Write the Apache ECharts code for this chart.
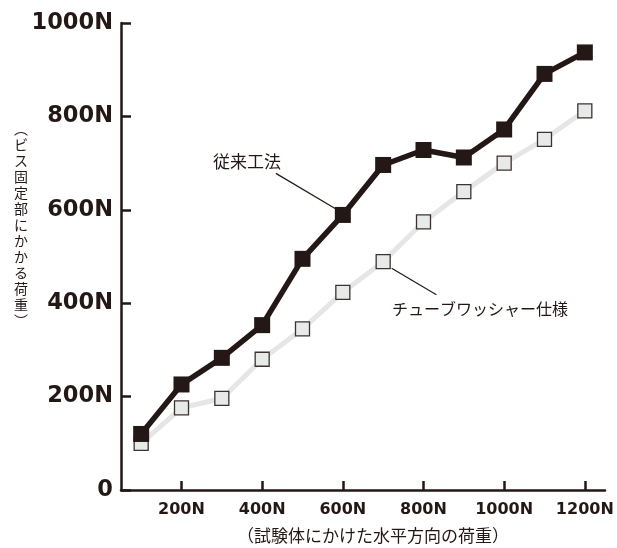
<!DOCTYPE html>
<html>
<head>
<meta charset="utf-8">
<script src="https://cdn.jsdelivr.net/npm/echarts@6/dist/echarts.min.js"></script>
<style>
html,body{margin:0;padding:0;background:#fff;}
#chart{width:617px;height:548px;}
</style>
</head>
<body>
<div id="chart"></div>
<script>
// Horizontal load applied to specimen (N)
var xValues = [100, 200, 300, 400, 500, 600, 700, 800, 900, 1000, 1100, 1200];
// 従来工法 (conventional method)
var conventional = [120, 226, 283, 353, 495, 589, 696, 728, 712, 772, 891, 937];
// チューブワッシャー仕様 (tube washer spec)
var tubeWasher = [100, 176, 196, 280, 345, 423, 489, 574, 639, 700, 751, 812];
var xTickValues = [200, 400, 600, 800, 1000, 1200];
var yTickValues = [0, 200, 400, 600, 800, 1000];
var seriesNames = ['従来工法', 'チューブワッシャー仕様'];
var xTitle = '（試験体にかけた水平方向の荷重）';
var yTitle = '︵ビス固定部にかかる荷重︶';
// leader lines (data coordinates)
var leaderConventional = [[434, 678], [584, 601]];
var leaderTube = [[721, 475], [832, 418]];

var ink = '#231815';
function pairs(xs, ys) { return xs.map(function (x, i) { return [x, ys[i]]; }); }

var chart = echarts.init(document.getElementById('chart'), null, { renderer: 'canvas' });
chart.setOption({
  animation: false,
  backgroundColor: '#ffffff',
  grid: { left: 121, right: 12, top: 23, bottom: 58, containLabel: false },
  xAxis: {
    type: 'value', min: 50, max: 1250,
    axisLine: { show: true, lineStyle: { color: ink, width: 2.5 } },
    axisTick: { show: true, inside: true, length: 9, lineStyle: { color: ink, width: 2.5 }, customValues: xTickValues },
    axisLabel: {
      customValues: xTickValues, margin: 12,
      formatter: function (v) { return v + 'N'; },
      fontFamily: 'DejaVu Sans', fontWeight: 'bold', fontSize: 16, color: ink
    },
    splitLine: { show: false }
  },
  yAxis: {
    type: 'value', min: 0, max: 1000, interval: 200,
    axisLine: { show: true, lineStyle: { color: ink, width: 2.5 } },
    axisTick: { show: true, inside: true, length: 10, lineStyle: { color: ink, width: 2.5 } },
    axisLabel: {
      margin: 8,
      formatter: function (v) { return v === 0 ? '0' : v + 'N'; },
      fontFamily: 'DejaVu Sans', fontWeight: 'bold', fontSize: 22.5, color: ink
    },
    splitLine: { show: false }
  },
  series: [
    {
      name: seriesNames[1], type: 'line', z: 2,
      data: pairs(xValues, tubeWasher),
      symbol: 'rect', symbolSize: 14,
      lineStyle: { color: '#e6e6e6', width: 5 },
      itemStyle: { color: '#e8e9e9', borderColor: '#3a3330', borderWidth: 1.3 },
      markLine: {
        silent: true, symbol: 'none', animation: false,
        lineStyle: { color: ink, width: 1.2, type: 'solid' },
        label: { show: false },
        data: [[{ coord: leaderTube[0] }, { coord: leaderTube[1] }]]
      }
    },
    {
      name: seriesNames[0], type: 'line', z: 3,
      data: pairs(xValues, conventional),
      symbol: 'rect', symbolSize: 16,
      lineStyle: { color: ink, width: 5.5 },
      itemStyle: { color: ink, borderWidth: 0 },
      markLine: {
        silent: true, symbol: 'none', animation: false,
        lineStyle: { color: ink, width: 1.2, type: 'solid' },
        label: { show: false },
        data: [[{ coord: leaderConventional[0] }, { coord: leaderConventional[1] }]]
      }
    }
  ],
  graphic: [
    { type: 'text', left: 213, top: 153, style: { text: seriesNames[0], fontFamily: 'Noto Sans CJK JP', fontSize: 17, fill: ink } },
    { type: 'text', left: 392, top: 301, style: { text: seriesNames[1], fontFamily: 'Noto Sans CJK JP', fontSize: 16, fill: ink } },
    { type: 'text', left: 237, top: 527, style: { text: xTitle, fontFamily: 'Noto Sans CJK JP', fontSize: 17, fill: ink } },
    { type: 'text', left: 14, top: 121, style: { text: yTitle.split('').join('\n'), fontFamily: 'Noto Sans CJK JP', fontSize: 14, lineHeight: 16, fill: ink, align: 'left' } }
  ]
});
</script>
</body>
</html>
